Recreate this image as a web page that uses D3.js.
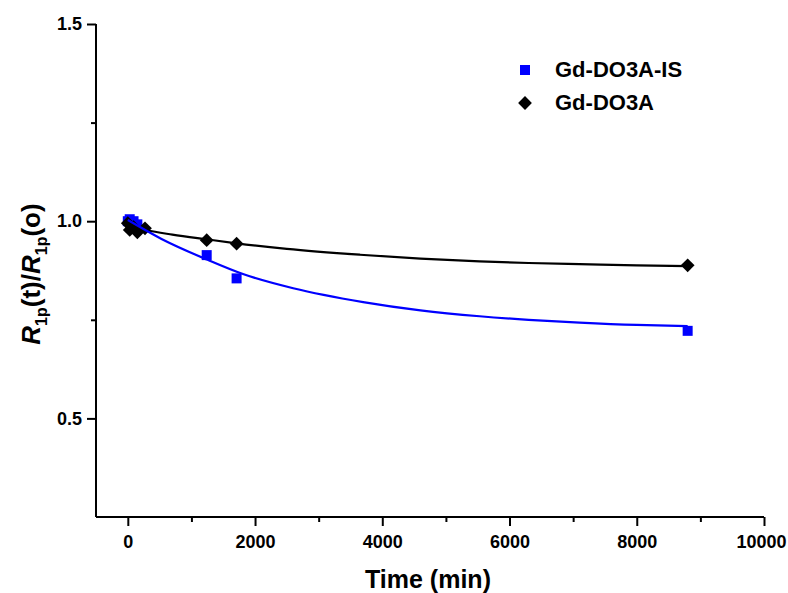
<!DOCTYPE html>
<html>
<head>
<meta charset="utf-8">
<script src="https://cdn.jsdelivr.net/npm/d3@7"></script>
<style>
  html, body { margin: 0; padding: 0; background: #fff; }
  svg { display: block; }
  text { font-family: "Liberation Sans", Arial, sans-serif; font-weight: bold; fill: #000; }
</style>
</head>
<body>
<svg id="chart" width="788" height="593"></svg>
<script>
// Relaxivity ratio R1p(t)/R1p(0) over time for two Gd complexes
const seriesNames = ["Gd-DO3A-IS", "Gd-DO3A"];
const seriesColors = ["#0000ff", "#000000"];

// measured points (time in min)
const isTime  = [0, 30, 90, 150, 1240, 1710, 8800];
const isRatio = [1.000, 1.005, 1.000, 0.992, 0.914, 0.855, 0.722];
const refTime  = [0, 30, 90, 150, 270, 1240, 1710, 8800];
const refRatio = [0.995, 0.978, 0.985, 0.972, 0.982, 0.952, 0.943, 0.888];

// fitted decay curves, sampled
const isFitTime  = [0, 530, 1240, 1810, 2600, 3700, 4600, 5530, 6300, 7100, 8000, 8800];
const isFitRatio = [1.003, 0.955, 0.903, 0.866, 0.830, 0.795, 0.774, 0.759, 0.750, 0.743, 0.737, 0.734];
const refFitTime  = [0, 300, 700, 1240, 1710, 2500, 3650, 4600, 5530, 6300, 7100, 8000, 8800];
const refFitRatio = [0.990, 0.977, 0.966, 0.954, 0.944, 0.930, 0.915, 0.905, 0.898, 0.894, 0.891, 0.888, 0.886];

const xMajorTicks = [0, 2000, 4000, 6000, 8000, 10000];
const xMinorTicks = [1000, 3000, 5000, 7000, 9000];
const yMajorTicks = [0.5, 1.0, 1.5];
const yMinorTicks = [0.75, 1.25];

const svg = d3.select("#chart");
const x = d3.scaleLinear().domain([-500, 10000]).range([96, 764]);
const y = d3.scaleLinear().domain([0.25, 1.5]).range([517, 24]);

// axes
const xAxis = d3.axisBottom(x).tickValues(xMajorTicks).tickFormat(d3.format("d")).tickSize(9).tickPadding(9);
const xAxisMinor = d3.axisBottom(x).tickValues(xMinorTicks).tickFormat("").tickSize(5);
const yAxis = d3.axisLeft(y).tickValues(yMajorTicks).tickFormat(d3.format(".1f")).tickSize(9).tickPadding(5);
const yAxisMinor = d3.axisLeft(y).tickValues(yMinorTicks).tickFormat("").tickSize(5);

function styleAxis(g) {
  g.attr("font-size", 18).attr("font-family", "Liberation Sans, Arial, sans-serif");
  g.select(".domain").attr("stroke", "#000").attr("stroke-width", 2);
  g.selectAll(".tick line").attr("stroke", "#000").attr("stroke-width", 2);
  g.selectAll(".tick text").attr("font-weight", "bold");
}

const gx = svg.append("g").attr("transform", "translate(0,517)");
gx.call(xAxis).call(styleAxis);
gx.select(".domain").attr("d", `M${x(-500)},0H${x(10000)}`);
// keep the last label inside the frame
gx.selectAll(".tick text").filter(d => d === 10000).attr("dx", -3);
const gxm = svg.append("g").attr("transform", "translate(0,517)").call(xAxisMinor).call(styleAxis);
gxm.select(".domain").remove();

const gy = svg.append("g").attr("transform", "translate(96,0)");
gy.call(yAxis).call(styleAxis);
gy.select(".domain").attr("d", `M0,${y(0.25)}V${y(1.5)}`);
const gym = svg.append("g").attr("transform", "translate(96,0)").call(yAxisMinor).call(styleAxis);
gym.select(".domain").remove();

// axis titles
svg.append("text")
  .attr("x", 428).attr("y", 588)
  .attr("text-anchor", "middle")
  .attr("font-size", 25)
  .text("Time (min)");

const yt = svg.append("text")
  .attr("transform", "translate(40,274) rotate(-90)")
  .attr("text-anchor", "middle")
  .attr("font-size", 26);
yt.append("tspan").attr("font-style", "italic").text("R");
yt.append("tspan").attr("font-size", 16).attr("dy", 7).text("1p");
yt.append("tspan").attr("dy", -7).text("(t)/");
yt.append("tspan").attr("font-style", "italic").text("R");
yt.append("tspan").attr("font-size", 16).attr("dy", 7).text("1p");
yt.append("tspan").attr("dy", -7).text("(o)");

// markers
const squarePath = d3.symbol(d3.symbolSquare, 100)();
const diamondPath = d3.symbol(d3.symbolSquare, 95)();

svg.append("g").selectAll("path")
  .data(d3.zip(isTime, isRatio))
  .join("path")
  .attr("d", squarePath)
  .attr("transform", d => `translate(${x(d[0])},${y(d[1])})`)
  .attr("fill", seriesColors[0]);

svg.append("g").selectAll("path")
  .data(d3.zip(refTime, refRatio))
  .join("path")
  .attr("d", diamondPath)
  .attr("transform", d => `translate(${x(d[0])},${y(d[1])}) rotate(45)`)
  .attr("fill", seriesColors[1]);

// fit curves
const line = d3.line().x(d => x(d[0])).y(d => y(d[1])).curve(d3.curveMonotoneX);
svg.append("path")
  .datum(d3.zip(refFitTime, refFitRatio))
  .attr("d", line)
  .attr("fill", "none").attr("stroke", seriesColors[1]).attr("stroke-width", 2.2);
svg.append("path")
  .datum(d3.zip(isFitTime, isFitRatio))
  .attr("d", line)
  .attr("fill", "none").attr("stroke", seriesColors[0]).attr("stroke-width", 2.2);

// legend
const legend = svg.append("g");
legend.append("path").attr("d", squarePath).attr("transform", "translate(525,70)").attr("fill", seriesColors[0]);
legend.append("path").attr("d", diamondPath).attr("transform", "translate(525,103) rotate(45)").attr("fill", seriesColors[1]);
legend.append("text").attr("x", 555).attr("y", 77).attr("font-size", 22).text(seriesNames[0]);
legend.append("text").attr("x", 555).attr("y", 110).attr("font-size", 22).text(seriesNames[1]);
</script>
</body>
</html>
